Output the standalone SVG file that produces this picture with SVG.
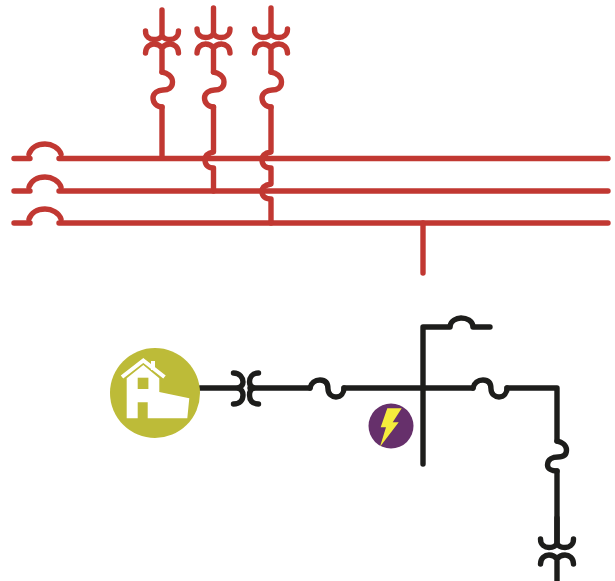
<svg xmlns="http://www.w3.org/2000/svg" width="615" height="581" viewBox="0 0 615 581">
<style>
.r,.k{fill:none;stroke-width:5.400;stroke-linecap:round;stroke-linejoin:round}
.r{stroke:#c13832}
.k{stroke:#1d1d1b}
</style>
<defs>
<path id="cup" d="M-16.500 21C-16.500 27 -12 29.500 -8 29.500C-4 29.500 -1 28 0 25V0M0 25C1 28 4 29.500 8 29.500C12 29.500 16.500 27 16.500 21"/>
<path id="arch" d="M-16.500 43C-16.500 37 -12 34 -8 34C-4 34 -1.500 36 0 38C1.500 36 4 34 8 34C12 34 16.500 37 16.500 43M0 38V62"/>
<path id="s" d="M0 0C5 1 10.500 4 10.500 10C10.500 16 6 18 1 18C-4 18 -9 21 -9 26C-9 31 -5 35 0 35"/>
<path id="s2" d="M0 0C5 1 9.500 4 9.500 9C9.500 14 6 16 1 16C-4 16 -9.500 18 -9.500 24C-9.500 28 -5 30 0 30"/>
<path id="cb" d="M-15 0C-13 -6 -7 -10 1 -10C8 -10 15 -6 17 0"/>
<path id="fuse" d="M0 0C1 -5 5 -8 10 -8C16 -8 18 -4 18 1C18 6 22 9 26 9C31 9 34 5 34 0"/>
</defs>
<g id="connectors">
<g class="r">
<path d="M14 158.500H30M59 158.500H608M14 191H30M59 191H608M14 223H30M59 223H608"/>
<path d="M162 107V158"/>
<path d="M213.500 107V152C208 153 205 156 205 160C205 165 208 168 213.500 168V191"/>
<path d="M271 107V152C265 153 262 156 262 160C262 165 265 168 271 168V184C265 185 262 188 262 191.500C262 196 265 199 271 199V223"/>
<path d="M423 223V273"/>
<use href="#cb" x="44" y="154"/><use href="#cb" x="44" y="187"/><use href="#cb" x="44" y="219"/>
<use href="#cup" x="162" y="10"/><use href="#cup" x="213.500" y="8"/><use href="#cup" x="271" y="8"/>
<use href="#arch" x="162" y="10"/><use href="#arch" x="213.500" y="10"/><use href="#arch" x="271" y="10"/>
<use href="#s" x="162" y="72"/><use href="#s" x="213.500" y="72"/><use href="#s" x="271" y="72"/>
</g>
<g class="k">
<path d="M200 388H238M250 388H310M344 388H473M507 388H557V441M557 471V543M423 464V327H450M473 327H490"/>
<path d="M233.500 373C240 373 243 378 243 382C243 385 241 387 238 388C241 389 243 391 243 395C243 400 240 404 233.500 404"/>
<path d="M258.500 373C252 373 249.500 378 249.500 382C249.500 385 251 387 254 388C251 389 249.500 391 249.500 395C249.500 400 252 404 258.500 404"/>
<use href="#fuse" x="310" y="388"/><use href="#fuse" x="473" y="388"/>
<path d="M450 326C451 321 456 318 461 318C467 318 472 321 473 326"/>
<use href="#s2" x="557" y="441"/>
<use href="#cup" x="557" y="518"/><use href="#arch" x="557" y="521"/>
</g>
</g>
<g id="house">
<circle cx="155" cy="393" r="45" fill="#bdbb38"/>
<path fill="#fff" d="M126.700 378.300L143.300 365L159.300 378.300V392L189.300 398.300L187.300 418.300H147.700V402.300H137.700V418.300H126.700Z"/>
<path fill="none" stroke="#fff" stroke-width="4" d="M122 377L143.300 360.500L164.500 377"/>
<path fill="#fff" d="M151 361H155V370H151Z"/>
<rect x="137.700" y="377.700" width="10.700" height="11.300" fill="#bdbb38"/>
</g>
<g id="bolt">
<circle cx="391" cy="426" r="22.500" fill="#66306b"/>
<path fill="#f5ec3c" d="M387.300 408.300H401.700L392.700 422.300H398.700L380 446.700L386 427.300H380.700Z"/>
</g>
</svg>
